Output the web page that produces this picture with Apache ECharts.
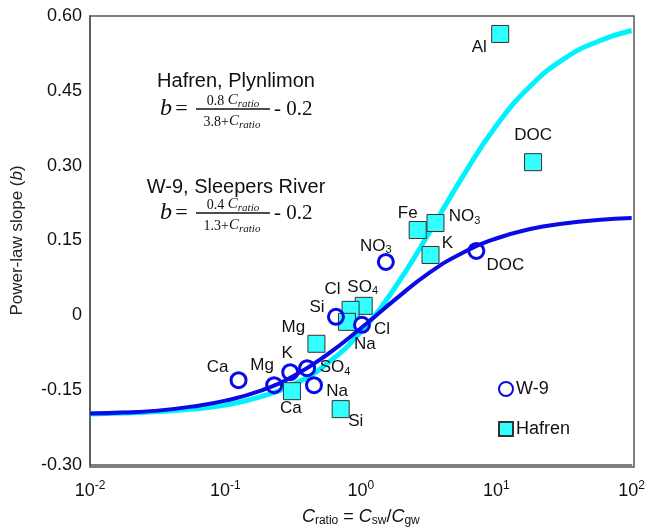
<!DOCTYPE html>
<html>
<head>
<meta charset="utf-8">
<script src="https://cdn.jsdelivr.net/npm/echarts@6/dist/echarts.min.js"></script>
<style>html,body{margin:0;padding:0;background:#fff;}#c{width:648px;height:532px;}</style>
</head>
<body>
<div id="c"></div>
<script>
// ---- data ----
const xTicks = [0.01, 0.1, 1, 10, 100];
const yTicks = [-0.30, -0.15, 0, 0.15, 0.30, 0.45, 0.60];

const hafrenNames = ['Al', 'DOC', 'Fe', 'NO3', 'K', 'SO4', 'Cl', 'Na', 'Mg', 'Ca', 'Si'];
const hafrenX = [10.7, 18.7, 2.63, 3.56, 3.27, 1.05, 0.84, 0.79, 0.47, 0.31, 0.71];
const hafrenY = [0.564, 0.307, 0.171, 0.185, 0.121, 0.019, 0.011, -0.013, -0.057, -0.152, -0.188];

const w9Names = ['Ca', 'Mg', 'K', 'SO4', 'Na', 'Si', 'Cl', 'NO3', 'DOC'];
const w9X = [0.125, 0.229, 0.301, 0.401, 0.451, 0.655, 1.02, 1.53, 7.13];
const w9Y = [-0.130, -0.140, -0.114, -0.106, -0.140, -0.003, -0.019, 0.107, 0.129];

// fitted curves as drawn
const curveX = [0.01, 0.0178, 0.0316, 0.0562, 0.1, 0.178, 0.316, 0.562, 1, 1.78, 3.16, 5.62, 10, 17.8, 31.6, 56.2, 100];
const hafrenFit = [-0.198, -0.196, -0.193, -0.188, -0.180, -0.164, -0.139, -0.097, -0.033, 0.055, 0.163, 0.277, 0.380, 0.459, 0.514, 0.549, 0.571];
const w9Fit = [-0.197, -0.195, -0.191, -0.183, -0.171, -0.152, -0.122, -0.079, -0.026, 0.031, 0.084, 0.125, 0.154, 0.173, 0.184, 0.191, 0.195];

// ---- layout (label offsets in px) ----
const hafrenLabelOffset = {Al:[-21,13], DOC:[0,-27], Fe:[-10,-17], NO3:[29,-7], K:[17,-12], SO4:[-1,-19], Cl:[-18,-21], Na:[18,22], Mg:[-23,-17], Ca:[-1,17], Si:[15,12]};
const w9LabelOffset = {Ca:[-21,-13], Mg:[-12,-20], K:[-3,-19], SO4:[28,-1], Na:[23,6], Si:[-19,-10], Cl:[20,4], NO3:[-10,-16], DOC:[29,14]};

const FONT = '"Liberation Sans", Arial, sans-serif';
const SERIF = '"Liberation Serif", "Times New Roman", serif';
const CYAN = '#00f2ff';
const BLUE = '#0a0ae6';

function labelText(n) {
  const m = n.match(/^([A-Za-z]+)(\d)$/);
  if (m) return '{m|' + m[1] + '}{s|' + m[2] + '}';
  return '{m|' + n + '}';
}
const labelRich = {
  m: {fontSize: 17, fontFamily: FONT, color: '#111', lineHeight: 18, verticalAlign: 'bottom'},
  s: {fontSize: 11, fontFamily: FONT, color: '#111', lineHeight: 18, verticalAlign: 'bottom', padding: [0,0,-1,0]}
};

function pts(names, xs, ys, offs) {
  return names.map((n, i) => ({
    name: n,
    value: [xs[i], ys[i]],
    label: {show: true, position: 'inside', offset: offs[n], formatter: labelText(n), rich: labelRich}
  }));
}

function equation(titleText, titleY, numA, denA, y0) {
  const els = [];
  els.push({type: 'text', x: 236, y: titleY, style: {text: titleText, font: '20px ' + FONT, fill: '#111', align: 'center', verticalAlign: 'middle'}});
  els.push({type: 'text', x: 160, y: y0, style: {
    text: '{b|b} {e|=}', align: 'left', verticalAlign: 'middle',
    rich: {b: {fontSize: 24, fontStyle: 'italic', fontFamily: SERIF, fill: '#111'}, e: {fontSize: 22, fontFamily: SERIF, fill: '#111'}}
  }});
  const fr = {
    n: {fontSize: 14, fontFamily: SERIF, fill: '#111', lineHeight: 16, verticalAlign: 'bottom'},
    c: {fontSize: 15, fontStyle: 'italic', fontFamily: SERIF, fill: '#111', lineHeight: 16, verticalAlign: 'bottom'},
    r: {fontSize: 11, fontStyle: 'italic', fontFamily: SERIF, fill: '#111', lineHeight: 16, verticalAlign: 'bottom', padding: [0,0,-2,0]}
  };
  els.push({type: 'text', x: 233, y: y0 - 9, style: {text: '{n|' + numA + ' }{c|C}{r|ratio}', align: 'center', verticalAlign: 'middle', rich: fr}});
  els.push({type: 'line', shape: {x1: 196, y1: y0, x2: 270, y2: y0}, style: {stroke: '#111', lineWidth: 1.3}});
  els.push({type: 'text', x: 232, y: y0 + 12, style: {text: '{n|' + denA + '+}{c|C}{r|ratio}', align: 'center', verticalAlign: 'middle', rich: fr}});
  els.push({type: 'text', x: 274, y: y0, style: {text: '- 0.2', font: '21px ' + SERIF, fill: '#111', align: 'left', verticalAlign: 'middle'}});
  return els;
}

const chart = echarts.init(document.getElementById('c'), null, {renderer: 'canvas'});
const option = {
  animation: false,
  backgroundColor: '#fff',
  grid: {left: 90, right: 14, top: 16, bottom: 65, show: false},
  legend: {
    data: ['W-9', 'Hafren'], orient: 'vertical', left: 498, top: 380,
    itemWidth: 14, itemHeight: 14, itemGap: 22, padding: 0,
    textStyle: {fontSize: 18, fontFamily: FONT, color: '#111', padding: [0,0,0,-2]}
  },
  xAxis: {
    type: 'log', logBase: 10, min: xTicks[0], max: xTicks[xTicks.length - 1],
    axisLine: {show: true, onZero: false, lineStyle: {color: '#555', width: 1.5}},
    axisTick: {show: false}, splitLine: {show: false}, minorTick: {show: false},
    axisLabel: {
      margin: 15, color: '#111',
      formatter: v => '{n|10}{p|' + Math.round(Math.log10(v)) + '}',
      rich: {
        n: {fontSize: 18, fontFamily: FONT, color: '#111', lineHeight: 20, verticalAlign: 'bottom'},
        p: {fontSize: 12, fontFamily: FONT, color: '#111', lineHeight: 20, verticalAlign: 'top'}
      }
    },
    name: '{c|C}{s|ratio}{m| = }{c|C}{s|sw}{m|/}{c|C}{s|gw}',
    nameLocation: 'middle', nameGap: 41,
    nameTextStyle: {
      rich: {
        c: {fontSize: 18, fontStyle: 'italic', fontFamily: FONT, color: '#111', lineHeight: 20, verticalAlign: 'bottom'},
        m: {fontSize: 18, fontFamily: FONT, color: '#111', lineHeight: 20, verticalAlign: 'bottom'},
        s: {fontSize: 12, fontFamily: FONT, color: '#111', lineHeight: 20, verticalAlign: 'bottom', padding: [0,0,-1,0]}
      }
    }
  },
  yAxis: {
    type: 'value', min: yTicks[0], max: yTicks[yTicks.length - 1], interval: 0.15,
    axisLine: {show: true, onZero: false, lineStyle: {color: '#555', width: 1.5}},
    axisTick: {show: false}, splitLine: {show: false},
    axisLabel: {
      margin: 8, fontSize: 18, fontFamily: FONT, color: '#111',
      formatter: v => Math.abs(v) < 1e-9 ? '0' : v.toFixed(2)
    },
    name: '{m|Power-law slope (}{i|b}{m|)}',
    nameLocation: 'middle', nameGap: 64, nameRotate: 90,
    nameTextStyle: {
      rich: {
        m: {fontSize: 17, fontFamily: FONT, color: '#222'},
        i: {fontSize: 17, fontStyle: 'italic', fontFamily: FONT, color: '#222'}
      }
    }
  },
  series: [
    {
      name: 'Hafren fit', type: 'line', smooth: true, showSymbol: false, symbol: 'none',
      data: curveX.map((x, i) => [x, hafrenFit[i]]),
      lineStyle: {color: CYAN, width: 5}, z: 2, silent: true
    },
    {
      name: 'W-9 fit', type: 'line', smooth: true, showSymbol: false, symbol: 'none',
      data: curveX.map((x, i) => [x, w9Fit[i]]),
      lineStyle: {color: BLUE, width: 4}, z: 3, silent: true
    },
    {
      name: 'Hafren', type: 'scatter', symbol: 'rect', symbolSize: 17,
      itemStyle: {color: '#33ffff', borderColor: '#333', borderWidth: 1, opacity: 1},
      data: pts(hafrenNames, hafrenX, hafrenY, hafrenLabelOffset), z: 4
    },
    {
      name: 'W-9', type: 'scatter', symbol: 'circle', symbolSize: 15,
      itemStyle: {color: 'rgba(255,255,255,0)', borderColor: BLUE, borderWidth: 3, opacity: 1},
      data: pts(w9Names, w9X, w9Y, w9LabelOffset), z: 5
    }
  ],
  graphic: [
    {type: 'rect', shape: {x: 90, y: 16, width: 544, height: 451}, style: {fill: 'none', stroke: '#555', lineWidth: 1.5}, silent: true, z: 1},
    ...equation('Hafren, Plynlimon', 81, '0.8', '3.8', 109),
    ...equation('W-9, Sleepers River', 187, '0.4', '1.3', 213)
  ]
};
chart.setOption(option);
</script>
</body>
</html>
